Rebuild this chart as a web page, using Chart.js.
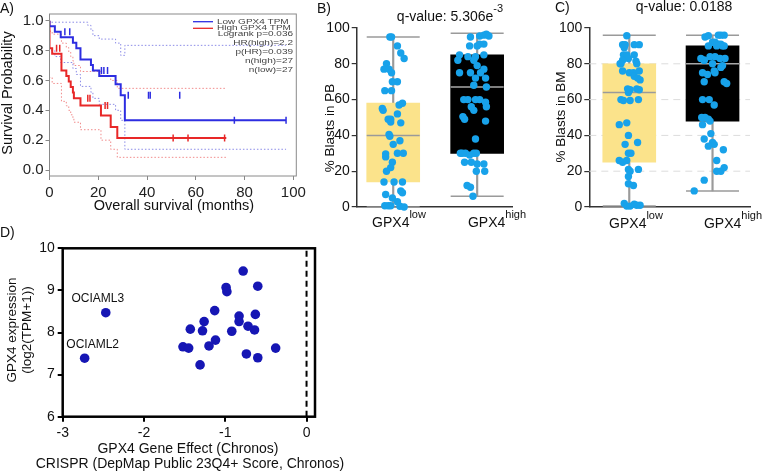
<!DOCTYPE html>
<html>
<head>
<meta charset="utf-8">
<script src="https://cdn.jsdelivr.net/npm/chart.js@4.4.1/dist/chart.umd.min.js"></script>
<style>
  body { margin: 0; width: 778px; height: 472px; background: #fff; position: relative; overflow: hidden; }
  canvas { position: absolute; }
</style>
</head>
<body>
<canvas id="kmChart" width="310" height="215" style="left:0;top:0"></canvas>
<canvas id="pbChart" width="280" height="235" style="left:260px;top:0"></canvas>
<canvas id="bmChart" width="248" height="235" style="left:530px;top:0"></canvas>
<canvas id="crisprChart" width="400" height="252" style="left:0;top:220px"></canvas>
<script>
const FONT = "'Liberation Sans', Arial, Helvetica, sans-serif";
Chart.defaults.font.family = FONT;

// A) Kaplan-Meier, survival by GPX4 TPM
const kmXTicks = [0, 20, 40, 60, 80, 100];
const kmYTicks = [0, 0.2, 0.4, 0.6, 0.8, 1.0];
const kmLowTime = [0, 2.2, 4.6, 9.6, 11, 12.7, 17, 17.8, 20.4, 27.1, 29.2, 30.9, 55.8, 97];
const kmLowSurv = [1, 0.963, 0.926, 0.889, 0.852, 0.815, 0.741, 0.704, 0.667, 0.630, 0.574, 0.5, 0.333, 0.333];
const kmLowCensor = [6.3, 8.3, 21.3, 22.3, 23.8, 32.3, 40.6, 41.3, 53.4, 75.8, 97];
const kmHighTime = [0, 1.1, 4.9, 6.9, 7.9, 8.7, 9.6, 10.0, 12.7, 21.1, 25.1, 27.8, 47.4, 72.5];
const kmHighSurv = [1, 0.815, 0.778, 0.667, 0.630, 0.593, 0.556, 0.519, 0.481, 0.433, 0.366, 0.288, 0.214, 0.214];
const kmHighCensor = [2.9, 4.2, 15.7, 16.6, 22.8, 23.8, 50.7, 56.8, 71.8];
const ciLowUpTime = [0, 15.7, 17, 17.8, 20.4, 27.1, 29.2, 30.9, 55.8, 97];
const ciLowUpSurv = [1, 0.99, 0.969, 0.936, 0.90, 0.877, 0.85, 0.768, 0.835, 0.835];
const ciLowLoSurv = [1, 0.80, 0.76, 0.72, 0.68, 0.64, 0.56, 0.52, 0.48, 0.44, 0.40, 0.333, 0.139, 0.139];
const ciHighUpSurv = [1, 0.93, 0.91, 0.85, 0.82, 0.79, 0.76, 0.73, 0.70, 0.66, 0.63, 0.60, 0.547, 0.547];
const ciHighLoSurv = [1, 0.62, 0.58, 0.46, 0.43, 0.40, 0.37, 0.345, 0.32, 0.27, 0.20, 0.139, 0.085, 0.085];
const kmLegend = ['Low GPX4 TPM', 'High GPX4 TPM'];
const kmStats = ['Logrank p=0.036', 'HR(high)=2.2', 'p(HR)=0.039', 'n(high)=27', 'n(low)=27'];

// B) / C) blasts by GPX4 group
const groupLabels = ['low', 'high'];
const groupPos = [1, 2];
const blastTicks = [0, 20, 40, 60, 80, 100];
const pbMin = [0, 6], pbQ1 = [14, 30], pbMed = [40, 67], pbQ3 = [58, 85], pbMax = [95, 97];
const pbLowVals = [95, 95, 90, 86, 83, 80, 77, 77, 75, 70, 70, 65, 65, 58, 57, 55, 54, 52, 49, 49, 47.5, 47, 40.5, 39.5, 37, 35, 29.7, 28, 30, 30, 25, 20, 22, 14, 14, 14, 9, 8, 7, 5, 3, 0.7, 0.7, 0.7, 0.4, 0];
const pbLowJit = [-0.04, -0.02, 0.05, 0.09, 0.13, -0.08, -0.11, -0.05, -0.02, -0.01, 0.05, -0.10, -0.02, 0.11, 0.07, -0.13, -0.12, 0.05, -0.06, -0.03, -0.03, 0.09, -0.05, -0.04, 0.08, 0, -0.09, -0.09, 0.05, 0.12, -0.01, -0.08, -0.03, -0.11, 0.01, 0.11, 0.09, 0.11, -0.09, -0.01, 0.05, -0.10, -0.06, -0.03, 0.08, 0.13];
const pbHighVals = [95, 95.5, 96, 96.5, 95.5, 90, 90, 91, 91, 85, 84, 84, 85, 82, 82, 79, 77, 75, 75, 75, 72, 72, 68, 67, 60, 60, 60, 60, 58.5, 56, 56, 54, 50.5, 49, 48, 38, 30, 30, 30, 29, 30, 30, 25, 25, 24, 24, 20, 20, 12, 11, 6];
const pbHighJit = [-0.08, 0.03, 0.08, 0.11, 0.14, -0.09, 0, 0.03, 0.08, -0.21, -0.11, -0.02, 0.08, -0.23, -0.04, 0, 0.08, -0.21, -0.08, 0.04, -0.02, 0.10, -0.04, 0.11, -0.16, -0.11, -0.02, 0.03, 0.10, 0.11, -0.07, -0.04, -0.17, -0.15, 0.10, -0.02, -0.20, -0.18, -0.14, -0.09, -0.04, -0.01, -0.15, -0.07, 0, 0.08, -0.01, 0.09, -0.12, -0.08, -0.05];
const bmMin = [0.5, 9], bmQ1 = [25, 48], bmMed = [64, 80], bmQ3 = [80, 90], bmMax = [96, 96];
const bmGrid = [20, 40, 60, 80];
const bmLowVals = [95.7, 90.7, 90.7, 90.7, 90.7, 89, 85, 85, 85, 83, 82, 81.5, 80, 80, 80, 76, 75, 75, 76, 73, 72, 71, 66, 65.5, 66, 65.5, 64, 60, 59.5, 59.5, 60, 46, 47, 40, 35, 36, 30, 30, 26, 25, 26, 21, 20, 21, 17, 13, 12, 2, 0.5, 0.5, 1.5, 1, 1];
const bmLowJit = [-0.03, -0.08, -0.05, 0.06, 0.12, -0.06, -0.07, -0.03, 0.06, -0.01, -0.08, 0.08, -0.11, -0.10, 0.09, -0.08, 0, 0.05, 0.12, 0.06, 0.10, 0.13, -0.02, 0.01, 0.09, 0.12, -0.01, -0.10, -0.07, 0.01, 0.11, -0.12, -0.03, -0.01, -0.05, 0.10, 0.02, -0.01, -0.12, -0.08, -0.03, -0.01, 0.01, 0.11, -0.01, -0.01, 0.05, -0.06, -0.03, 0.01, 0.06, 0.09, 0.13];
const bmHighVals = [95, 95.7, 96, 96, 96, 92, 92, 91, 91, 90, 90, 90, 90, 82, 84, 84, 83, 83, 83, 82, 80, 79, 78, 75, 74, 76, 75, 70, 70, 69, 60, 60, 57, 50, 50, 49, 48, 46, 38, 41, 36, 35, 34, 32, 26, 20, 20, 22, 15, 9];
const bmHighJit = [-0.09, -0.05, 0.07, 0.10, 0.14, 0, 0.03, 0.07, 0.10, 0.12, -0.05, 0.05, 0.14, -0.10, -0.03, 0.03, 0.09, 0.15, -0.14, -0.10, 0, 0.12, 0.10, -0.12, -0.06, 0.02, 0.03, -0.10, 0.14, 0.17, -0.12, -0.04, 0.02, -0.13, -0.09, -0.05, -0.03, -0.12, -0.10, -0.02, 0, 0.02, -0.05, 0.13, 0.05, 0.05, 0.10, 0.14, -0.10, -0.22];

// D) GPX4 gene effect vs expression
const crisprXTicks = [-3, -2, -1, 0];
const crisprEffect = [-2.47, -2.73, -0.78, -0.99, -0.98, -0.60, -1.13, -1.26, -0.63, -0.83, -0.83, -0.72, -1.43, -1.28, -0.92, -0.64, -1.12, -1.52, -1.45, -1.20, -0.38, -0.74, -0.60, -1.31];
const crisprExpr = [8.47, 7.39, 9.46, 9.07, 8.97, 9.10, 8.52, 8.26, 8.43, 8.39, 8.26, 8.15, 8.08, 8.04, 8.03, 8.06, 7.82, 7.66, 7.63, 7.68, 7.63, 7.49, 7.40, 7.23];
const crisprNames = ['OCIAML3', 'OCIAML2'];

const BLUE = 'rgb(45,45,225)', RED = 'rgb(232,40,40)';
const BLUE_CI = 'rgba(110,110,225,0.8)', RED_CI = 'rgba(238,110,110,0.8)';
const DOT = '#18a2ea';

function survAt(times, surv, t) {
    let s = surv[0];
    times.forEach((tt, i) => { if (tt <= t) s = surv[i]; });
    return s;
}

function stepSet(times, surv, color, dotted) {
    return {
        data: times.map((t, i) => ({ x: t, y: surv[i] })),
        stepped: 'after',
        borderColor: color,
        borderWidth: dotted ? 1 : 2,
        borderDash: dotted ? [1.5, 2] : [],
        pointRadius: 0,
        fill: false,
        order: dotted ? 2 : 1
    };
}

function censorSet(cens, times, surv, color) {
    return {
        type: 'scatter',
        data: cens.map(t => ({ x: t, y: survAt(times, surv, t) })),
        pointStyle: 'line',
        rotation: 90,
        pointRadius: 3.5,
        borderColor: color,
        borderWidth: 1.5,
        order: 0
    };
}

function textPlugin(id, items) {
    return {
        id: id,
        afterDraw(chart) {
            const ctx = chart.ctx;
            items.forEach(it => {
                const size = it.size || 14;
                ctx.save();
                ctx.fillStyle = it.color || '#111';
                ctx.textBaseline = 'middle';
                ctx.textAlign = 'left';
                ctx.translate(it.x, it.y);
                if (it.rot) ctx.rotate(it.rot);
                if (it.sy) ctx.scale(1, it.sy);
                ctx.font = size + 'px ' + FONT;
                const w = ctx.measureText(it.t).width;
                let sw = 0;
                if (it.sup) {
                    ctx.font = it.supSize + 'px ' + FONT;
                    sw = ctx.measureText(it.sup).width;
                }
                const total = w + sw;
                const x0 = it.align === 'left' ? 0 : it.align === 'right' ? -total : -total / 2;
                ctx.font = size + 'px ' + FONT;
                ctx.fillText(it.t, x0, 0);
                if (it.sup) {
                    ctx.font = it.supSize + 'px ' + FONT;
                    ctx.fillText(it.sup, x0 + w, -size * 0.6);
                }
                ctx.restore();
            });
        }
    };
}

const framePlugin = (color, width) => ({
    id: 'frame',
    afterDatasetsDraw(chart) {
        const a = chart.chartArea, ctx = chart.ctx;
        ctx.save();
        ctx.strokeStyle = color;
        ctx.lineWidth = width;
        ctx.strokeRect(a.left, a.top, a.right - a.left, a.bottom - a.top);
        ctx.restore();
    }
});

const baseOpts = {
    responsive: false,
    animation: false,
    events: [],
    plugins: { legend: { display: false }, tooltip: { enabled: false } }
};

// ---------- A ----------
const kmLegendPlugin = {
    id: 'kmLegend',
    afterDraw(chart) {
        const ctx = chart.ctx;
        [BLUE, RED].forEach((c, i) => {
            const y = 21.7 + i * 6.6;
            ctx.save();
            ctx.strokeStyle = c;
            ctx.lineWidth = 1.3;
            ctx.beginPath(); ctx.moveTo(193, y); ctx.lineTo(213, y); ctx.stroke();
            ctx.restore();
        });
    }
};
const kmTexts = [
    { t: 'A)', x: 0, y: 9, size: 14, align: 'left' },
    { t: 'Survival Probability', x: 7.5, y: 93, size: 14.5, rot: -Math.PI / 2 },
    { t: 'Overall survival (months)', x: 174, y: 206, size: 14.5 }
].concat(kmLegend.map((t, i) => ({ t: t, x: 217, y: 21.7 + i * 6.6, size: 10, sy: 0.68, align: 'left', color: '#444' })))
 .concat(kmStats.map((t, i) => ({ t: t, x: 293, y: 34.5 + i * 9, size: 10, sy: 0.68, align: 'right', color: '#444' })));

new Chart(document.getElementById('kmChart'), {
    type: 'line',
    data: {
        datasets: [
            stepSet(ciLowUpTime, ciLowUpSurv, BLUE_CI, true),
            stepSet(kmLowTime, ciLowLoSurv, BLUE_CI, true),
            stepSet(kmHighTime, ciHighUpSurv, RED_CI, true),
            stepSet(kmHighTime, ciHighLoSurv, RED_CI, true),
            stepSet(kmLowTime, kmLowSurv, BLUE, false),
            stepSet(kmHighTime, kmHighSurv, RED, false),
            censorSet(kmLowCensor, kmLowTime, kmLowSurv, BLUE),
            censorSet(kmHighCensor, kmHighTime, kmHighSurv, RED)
        ]
    },
    options: Object.assign({}, baseOpts, {
        layout: { padding: { left: 0, top: 14, right: 10, bottom: 0 } },
        scales: {
            x: {
                type: 'linear', min: 0, max: 101.2,
                afterBuildTicks: s => { s.ticks = kmXTicks.map(v => ({ value: v })); },
                afterFit: s => { s.height = 39; },
                grid: { drawOnChartArea: false, tickLength: 4, color: '#888' },
                border: { display: false },
                ticks: { font: { size: 15 }, color: '#222', padding: 4, maxRotation: 0, autoSkip: false }
            },
            y: {
                type: 'linear', min: -0.04, max: 1.045,
                afterBuildTicks: s => { s.ticks = kmYTicks.map(v => ({ value: v })); },
                afterFit: s => { s.width = 49.5; },
                grid: { drawOnChartArea: false, tickLength: 4, color: '#888' },
                border: { display: false },
                ticks: { font: { size: 15 }, color: '#222', padding: 2, callback: v => v.toFixed(1) }
            }
        }
    }),
    plugins: [framePlugin('#8a8a8a', 1), kmLegendPlugin, textPlugin('kmText', kmTexts)]
});

// ---------- B & C ----------
function boxChart(id, o) {
    const pts = o.lowVals.map((v, i) => ({ x: groupPos[0] + o.lowJit[i], y: v }))
        .concat(o.highVals.map((v, i) => ({ x: groupPos[1] + o.highJit[i], y: v })));
    const gridPlugin = {
        id: 'dashGrid',
        beforeDatasetsDraw(chart) {
            const a = chart.chartArea, ctx = chart.ctx, ys = chart.scales.y;
            ctx.save();
            ctx.strokeStyle = '#dcdcdc';
            ctx.lineWidth = 1;
            ctx.setLineDash([7, 5]);
            o.grid.forEach(v => {
                const y = ys.getPixelForValue(v);
                ctx.beginPath(); ctx.moveTo(a.left, y); ctx.lineTo(a.right, y); ctx.stroke();
            });
            ctx.restore();
        }
    };
    return new Chart(document.getElementById(id), {
        type: 'bar',
        data: {
            datasets: [
                {
                    data: groupPos.map((c, i) => ({ x: c, y: [o.min[i], o.max[i]] })),
                    backgroundColor: '#9a9a9a', barThickness: 1.5, grouped: false, order: 3
                },
                {
                    data: groupPos.map((c, i) => ({ x: c, y: [o.q1[i], o.q3[i]] })),
                    backgroundColor: ['#fbe38b', '#000000'], barThickness: 53, grouped: false, order: 2
                },
                {
                    type: 'scatter',
                    data: groupPos.map((c, i) => ({ x: c, y: o.min[i] })).concat(groupPos.map((c, i) => ({ x: c, y: o.max[i] }))),
                    pointStyle: 'line', pointRadius: 26.5, borderColor: '#9a9a9a', borderWidth: 1.5, order: 1, clip: false
                },
                {
                    type: 'scatter',
                    data: groupPos.map((c, i) => ({ x: c, y: o.med[i] })),
                    pointStyle: 'line', pointRadius: 26.5, borderColor: ['#9a9a9a', '#a8a8a8'], borderWidth: 1.5, order: 1
                },
                {
                    type: 'scatter',
                    data: pts,
                    pointRadius: 3.7, backgroundColor: DOT, borderWidth: 0, order: 0, clip: false
                }
            ]
        },
        options: Object.assign({}, baseOpts, {
            layout: { padding: { left: 0, top: o.top, right: o.right, bottom: 0 } },
            scales: {
                x: {
                    type: 'linear', min: o.xmin, max: o.xmax, offset: false,
                    afterFit: s => { s.height = o.xh; },
                    grid: { display: false },
                    border: { display: true, color: '#333', width: 1.5 },
                    ticks: { display: false }
                },
                y: {
                    min: 0, max: 100,
                    afterBuildTicks: s => { s.ticks = blastTicks.map(v => ({ value: v })); },
                    afterFit: s => { s.width = o.yw; },
                    grid: { drawOnChartArea: false, tickLength: 5, color: '#333', lineWidth: 1.2 },
                    border: { display: true, color: '#333', width: 1.5 },
                    ticks: { font: { size: 14 }, color: '#111', padding: 2 }
                }
            }
        }),
        plugins: [gridPlugin, textPlugin(id + 'Text', o.texts)]
    });
}

boxChart('pbChart', {
    min: pbMin, q1: pbQ1, med: pbMed, q3: pbQ3, max: pbMax,
    lowVals: pbLowVals, lowJit: pbLowJit, highVals: pbHighVals, highJit: pbHighJit,
    grid: [], xmin: 0.565, xmax: 2.415, top: 22.7, right: 2, xh: 22.7, yw: 96.7,
    texts: [
        { t: 'B)', x: 57, y: 9, size: 14, align: 'left' },
        { t: 'q-value: 5.306e', sup: '-3', supSize: 11, x: 190, y: 17, size: 14 },
        { t: '% Blasts in PB', x: 70, y: 128, size: 13.5, rot: -Math.PI / 2 },
        { t: 'GPX4', sup: groupLabels[0], supSize: 11, x: 139, y: 223, size: 14 },
        { t: 'GPX4', sup: groupLabels[1], supSize: 11, x: 237, y: 223, size: 14 }
    ]
});

boxChart('bmChart', {
    min: bmMin, q1: bmQ1, med: bmMed, q3: bmQ3, max: bmMax,
    lowVals: bmLowVals, lowJit: bmLowJit, highVals: bmHighVals, highJit: bmHighJit,
    grid: bmGrid, xmin: 0.52, xmax: 2.45, top: 21.7, right: 1, xh: 20.7, yw: 59.3,
    texts: [
        { t: 'C)', x: 25, y: 8, size: 14, align: 'left' },
        { t: 'q-value: 0.0188', x: 154, y: 7, size: 14 },
        { t: '% Blasts in BM', x: 31.7, y: 117, size: 13.5, rot: -Math.PI / 2 },
        { t: 'GPX4', sup: groupLabels[0], supSize: 11, x: 106, y: 224, size: 14 },
        { t: 'GPX4', sup: groupLabels[1], supSize: 11, x: 203, y: 224, size: 14 }
    ]
});

// ---------- D ----------
const crisprLabelPlugin = {
    id: 'cellLabels',
    afterDatasetsDraw(chart) {
        const meta = chart.getDatasetMeta(0), ctx = chart.ctx;
        const offs = [[-8, -14], [8, -13]];
        ctx.save();
        ctx.font = '12px ' + FONT;
        ctx.fillStyle = '#111';
        ctx.textAlign = 'center';
        ctx.textBaseline = 'middle';
        crisprNames.forEach((n, i) => {
            const p = meta.data[i];
            ctx.fillText(n, p.x + offs[i][0], p.y + offs[i][1]);
        });
        ctx.restore();
    }
};

new Chart(document.getElementById('crisprChart'), {
    type: 'scatter',
    data: {
        datasets: [
            {
                data: crisprEffect.map((x, i) => ({ x: x, y: crisprExpr[i] })),
                backgroundColor: '#1616b4', borderWidth: 0, pointRadius: 4.8, order: 0
            },
            {
                type: 'line',
                data: [{ x: 0, y: 6 }, { x: 0, y: 10 }],
                borderColor: '#000', borderWidth: 2, borderDash: [6, 4], pointRadius: 0, order: 1
            }
        ]
    },
    options: Object.assign({}, baseOpts, {
        layout: { padding: { left: 0, top: 28.3, right: 85, bottom: 0 } },
        scales: {
            x: {
                type: 'linear', min: -3, max: 0.104,
                afterBuildTicks: s => { s.ticks = crisprXTicks.map(v => ({ value: v })); },
                afterFit: s => { s.height = 55.3; },
                grid: { drawOnChartArea: false, tickLength: 5, color: '#000', lineWidth: 2 },
                border: { display: false },
                ticks: { font: { size: 14 }, color: '#111', padding: 3, autoSkip: false, maxRotation: 0 }
            },
            y: {
                min: 6, max: 10,
                ticks: { stepSize: 1, font: { size: 14 }, color: '#111', padding: 3 },
                afterFit: s => { s.width = 62.7; },
                grid: { drawOnChartArea: false, tickLength: 5, color: '#000', lineWidth: 2 },
                border: { display: false }
            }
        }
    }),
    plugins: [framePlugin('#000', 2.5), crisprLabelPlugin, textPlugin('crisprText', [
        { t: 'D)', x: 0, y: 13, size: 14, align: 'left' },
        { t: 'GPX4 expression', x: 12, y: 110, size: 13.5, rot: -Math.PI / 2 },
        { t: '(log2(TPM+1))', x: 27, y: 110, size: 13.5, rot: -Math.PI / 2 },
        { t: 'GPX4 Gene Effect (Chronos)', x: 188, y: 229, size: 14 },
        { t: 'CRISPR (DepMap Public 23Q4+ Score, Chronos)', x: 190, y: 244, size: 14 }
    ])]
});
</script>
</body>
</html>
